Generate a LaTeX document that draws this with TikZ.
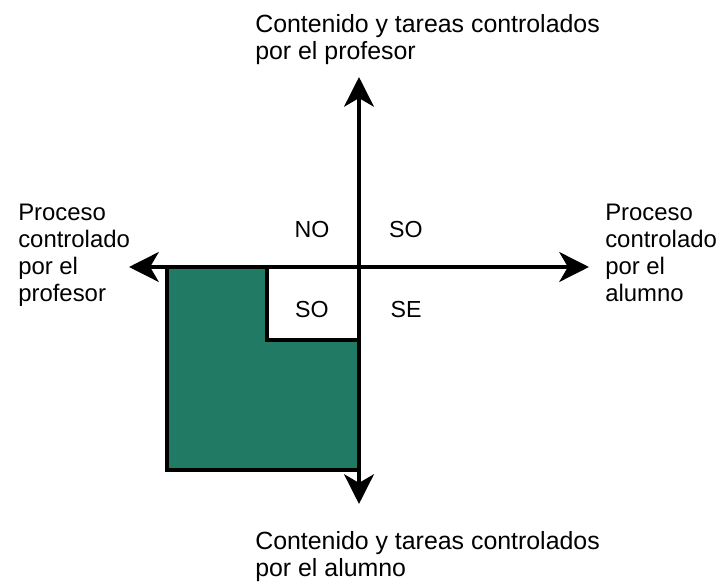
\documentclass[tikz,border=0pt]{standalone}
\usepackage{fontspec}
\setmainfont{Liberation Sans}
\usetikzlibrary{arrows.meta}
\definecolor{verdeprof}{RGB}{33,123,100}
\tikzset{
  eje/.style={line width=3.5pt, -{Stealth[length=21pt,width=21pt,inset=6pt]}},
  borde/.style={line width=3.5pt},
  etiqueta/.style={inner sep=0pt, font=\fontsize{17}{19.2}\selectfont, align=left},
  etiquetaancha/.style={etiqueta, font=\fontsize{17.7}{19.2}\selectfont},
  cuadrante/.style={inner sep=0pt, font=\fontsize{16.5}{19.2}\selectfont}
}

\begin{document}
\begin{tikzpicture}[x=0.025cm, y=-0.025cm]
    \useasboundingbox (0,0) rectangle (725,582);

    % Zona del profesor
    \fill[verdeprof] (167,267) rectangle (359,470);
    \fill[white] (267,267) rectangle (359,340);
    \draw[borde] (167,265) -- (167,470) -- (361,470);
    \draw[borde] (267,265) -- (267,340) -- (361,340);

    % Ejes
    \coordinate (centro) at (359,267);
    \coordinate (arriba) at (359,77);
    \coordinate (abajo) at (359,504);
    \coordinate (izq) at (129,267);
    \coordinate (der) at (589,267);
    \draw[eje] (centro) -- (arriba);
    \draw[eje] (centro) -- (abajo);
    \draw[eje] (centro) -- (izq);
    \draw[eje] (centro) -- (der);

    % Cuadrantes
    \node[cuadrante] (no) at (312,230) {NO};
    \node[cuadrante] (so) at (406,230) {SO};
    \node[cuadrante] (soin) at (312,310) {SO};
    \node[cuadrante] (se) at (406,310) {SE};

    % Etiquetas
    \node[etiquetaancha, anchor=north west] (profesor) at (255,14) {Contenido y tareas controlados\\por el profesor};
    \node[etiquetaancha, anchor=north west] (alumno) at (255,531) {Contenido y tareas controlados\\por el alumno};
    \node[etiqueta, anchor=north west] (procprof) at (18,204) {Proceso\\controlado\\por el\\profesor};
    \node[etiqueta, anchor=north west] (procalum) at (605,204) {Proceso\\controlado\\por el\\alumno};
\end{tikzpicture}
\end{document}
